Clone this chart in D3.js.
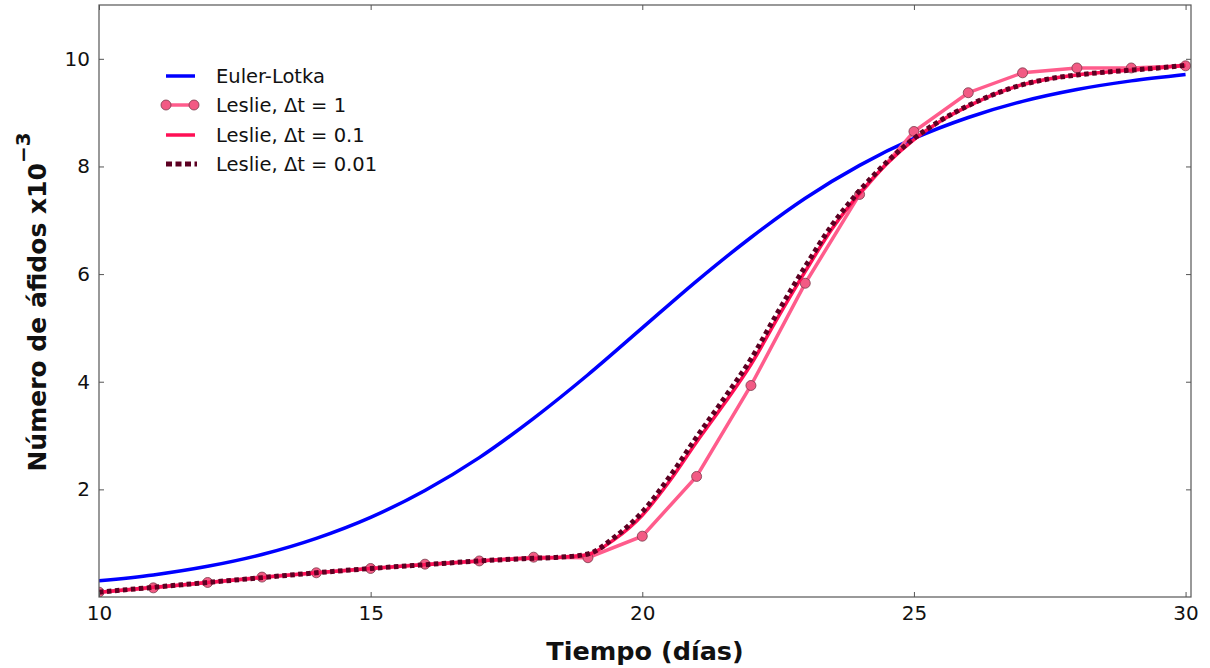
<!DOCTYPE html>
<html><head><meta charset="utf-8">
<script src="https://cdn.jsdelivr.net/npm/d3@7"></script>
<style>body{margin:0;background:#fff}text{font-family:"DejaVu Sans",sans-serif}</style>
</head><body><svg id="c" width="1210" height="668"></svg>
<script>
// Data
const eulerT = [10,11,12,13,14,15,16,17,18,19,20,21,22,23,24,25,26,27,28,29,30];
const eulerN = [0.30,0.41,0.57,0.79,1.09,1.48,1.98,2.59,3.32,4.13,5.0,5.87,6.68,7.41,8.02,8.52,8.91,9.21,9.43,9.59,9.71];
const leslie1T = [10,11,12,13,14,15,16,17,18,19,20,21,22,23,24,25,26,27,28,29,30];
const leslie1N = [0.09,0.17,0.27,0.37,0.45,0.53,0.61,0.67,0.74,0.73,1.13,2.24,3.93,5.83,7.48,8.65,9.37,9.74,9.83,9.83,9.87];
const leslie01T = [10,11,12,13,14,15,16,17,18,18.5,19,19.5,20,20.5,21,21.5,22,22.5,23,23.5,24,24.5,25,25.5,26,26.5,27,27.5,28,28.5,29,29.5,30];
const leslie01N = [0.09,0.18,0.27,0.36,0.45,0.53,0.6,0.67,0.72,0.74,0.79,1.08,1.52,2.15,2.88,3.58,4.32,5.2,6.05,6.85,7.5,8.05,8.5,8.85,9.12,9.35,9.52,9.63,9.7,9.75,9.79,9.83,9.88];
const leslie001T = leslie01T;
const leslie001N = [0.09,0.18,0.27,0.36,0.45,0.53,0.6,0.67,0.72,0.74,0.8,1.12,1.58,2.23,2.97,3.68,4.42,5.3,6.14,6.92,7.55,8.08,8.52,8.86,9.13,9.35,9.52,9.63,9.7,9.75,9.79,9.83,9.88];
const xTicks = [10,15,20,25,30];
const yTicks = [2,4,6,8,10];
const legendLabels = ["Euler-Lotka","Leslie, \u0394t = 1","Leslie, \u0394t = 0.1","Leslie, \u0394t = 0.01"];

const svg = d3.select("#c");
const L=99,R=1191,T=5,B=597;
const x = d3.scaleLinear().domain([10,30.1]).range([L,R]);
const y = d3.scaleLinear().domain([0,11]).range([B,T]);

svg.append("clipPath").attr("id","cp").append("rect").attr("x",L).attr("y",T).attr("width",R-L).attr("height",B-T);
const plot = svg.append("g").attr("clip-path","url(#cp)");

const line = d3.line().x(d=>x(d[0])).y(d=>y(d[1]));
const sm = d3.line().x(d=>x(d[0])).y(d=>y(d[1])).curve(d3.curveMonotoneX);
const zip=(a,b)=>a.map((v,i)=>[v,b[i]]);

const pink="#ff5c8c", mfill="#f25a84", mstroke="#7a3a4a", red="#ff0f55", maroon="#5c0022";

plot.append("path").datum(zip(eulerT,eulerN)).attr("d",sm).attr("fill","none").attr("stroke","#0000ff").attr("stroke-width",3.5);
plot.append("path").datum(zip(leslie1T,leslie1N)).attr("d",line).attr("fill","none").attr("stroke",pink).attr("stroke-width",3.5);
plot.selectAll("circle.m").data(zip(leslie1T,leslie1N)).join("circle").attr("class","m")
  .attr("cx",d=>x(d[0])).attr("cy",d=>y(d[1])).attr("r",5).attr("fill",mfill).attr("stroke",mstroke).attr("stroke-width",0.8);
plot.append("path").datum(zip(leslie01T,leslie01N)).attr("d",sm).attr("fill","none").attr("stroke",red).attr("stroke-width",3.5);
plot.append("path").datum(zip(leslie001T,leslie001N)).attr("d",sm).attr("fill","none").attr("stroke",maroon).attr("stroke-width",5).attr("stroke-dasharray","4.5,3.5");

// frame
svg.append("rect").attr("x",L).attr("y",T).attr("width",R-L).attr("height",B-T).attr("fill","none").attr("stroke","#555").attr("stroke-width",1.2);

// axes (inward ticks)
const xa = d3.axisBottom(x).tickValues(xTicks).tickSize(-5).tickPadding(9).tickFormat(d3.format("d"));
const xg = svg.append("g").attr("transform",`translate(0,${B})`).call(xa);
const ya = d3.axisLeft(y).tickValues(yTicks).tickSize(-5).tickPadding(9).tickFormat(d3.format("d"));
const yg = svg.append("g").attr("transform",`translate(${L},0)`).call(ya);
[xg,yg].forEach(a=>{a.select(".domain").remove();a.selectAll("line").attr("stroke","#555");a.selectAll("text").attr("font-size",20).attr("fill","#111").style("font-family","DejaVu Sans");});
svg.append("g").attr("transform",`translate(0,${T})`).call(d3.axisTop(x).tickValues(xTicks).tickSize(-5).tickFormat("")).call(a=>{a.select(".domain").remove();a.selectAll("line").attr("stroke","#555");});
svg.append("g").attr("transform",`translate(${R},0)`).call(d3.axisRight(y).tickValues(yTicks).tickSize(-5).tickFormat("")).call(a=>{a.select(".domain").remove();a.selectAll("line").attr("stroke","#555");});

// titles
svg.append("text").attr("x",645).attr("y",660).attr("text-anchor","middle").attr("font-size",25.5).attr("font-weight","bold").attr("fill","#111").text("Tiempo (días)");
const yl = svg.append("text").attr("transform","translate(46,302) rotate(-90)").attr("text-anchor","middle").attr("font-size",25).attr("font-weight","bold").attr("fill","#111");
yl.append("tspan").text("Número de áfidos x10");
yl.append("tspan").attr("dy",-16).attr("font-size",20).text("\u22123");

// legend
const lg = svg.append("g");
const rows=[76,105,135,164];
lg.append("line").attr("x1",166).attr("x2",195).attr("y1",rows[0]).attr("y2",rows[0]).attr("stroke","#0000ff").attr("stroke-width",3.5);
lg.append("line").attr("x1",166).attr("x2",195).attr("y1",rows[1]).attr("y2",rows[1]).attr("stroke",pink).attr("stroke-width",3.5);
[166,194].forEach(cx=>lg.append("circle").attr("cx",cx).attr("cy",rows[1]).attr("r",5).attr("fill",mfill).attr("stroke",mstroke).attr("stroke-width",0.8));
lg.append("line").attr("x1",166).attr("x2",195).attr("y1",rows[2]).attr("y2",rows[2]).attr("stroke",red).attr("stroke-width",3.5);
lg.append("line").attr("x1",166).attr("x2",197).attr("y1",rows[3]).attr("y2",rows[3]).attr("stroke",maroon).attr("stroke-width",5).attr("stroke-dasharray","6,3.5");
legendLabels.forEach((t,i)=>lg.append("text").attr("x",216).attr("y",rows[i]+7).attr("font-size",19.5).attr("fill","#111").text(t));
</script></body></html>
